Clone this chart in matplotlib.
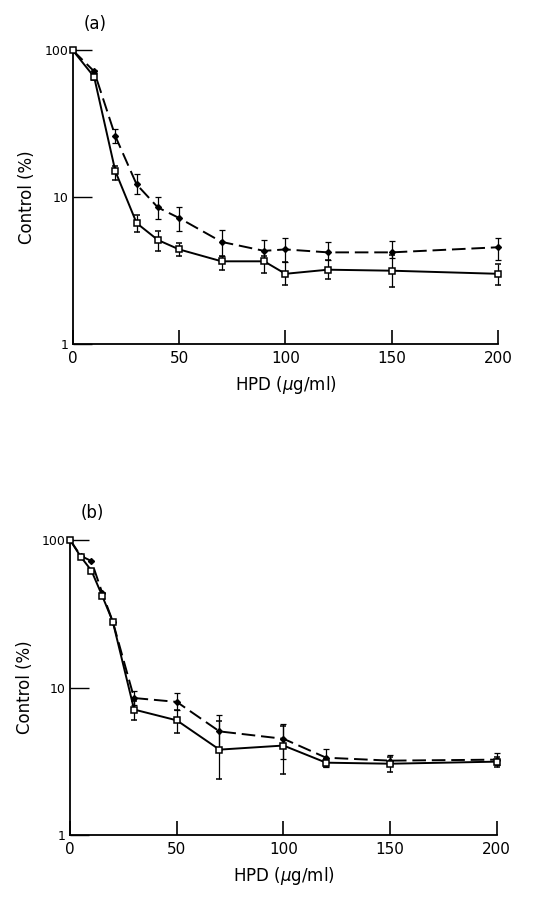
import numpy as np
import matplotlib
matplotlib.use("Agg")
import matplotlib.pyplot as plt

# panel (a)
xa = [0, 10, 20, 30, 40, 50, 70, 90, 100, 120, 150, 200]
a_filled = [100, 72, 26, 12.2, 8.5, 7.2, 4.95, 4.3, 4.4, 4.2, 4.2, 4.55]
a_filled_lo = [100, 70, 23.3, 10.5, 7.1, 5.9, 3.95, 3.6, 3.6, 3.7, 3.85, 3.7]
a_filled_hi = [100, 74, 29.3, 14.3, 10.0, 8.6, 6.0, 5.1, 5.3, 4.95, 5.0, 5.25]
a_open = [100, 66, 15.0, 6.65, 5.1, 4.4, 3.65, 3.65, 3.0, 3.2, 3.15, 3.0]
a_open_lo = [100, 63, 13.0, 5.8, 4.3, 3.95, 3.2, 3.05, 2.5, 2.75, 2.45, 2.5]
a_open_hi = [100, 69, 16.3, 7.5, 5.9, 4.9, 3.95, 3.95, 3.6, 3.7, 4.0, 3.5]

# panel (b)
xb = [0, 5, 10, 15, 20, 30, 50, 70, 100, 120, 150, 200]
b_filled = [100, 78, 72, 44, 28, 8.5, 8.0, 5.05, 4.5, 3.35, 3.2, 3.25]
b_filled_lo = [100, 78, 72, 44, 28, 7.6, 7.1, 3.8, 3.3, 2.9, 3.0, 3.0]
b_filled_hi = [100, 78, 72, 44, 28, 9.5, 9.15, 6.5, 5.7, 3.85, 3.5, 3.6]
b_open = [100, 77, 62, 42, 28, 7.1, 6.0, 3.8, 4.05, 3.1, 3.05, 3.15]
b_open_lo = [100, 77, 62, 42, 28, 6.0, 4.9, 2.4, 2.6, 2.9, 2.7, 2.9]
b_open_hi = [100, 77, 62, 42, 28, 8.1, 7.1, 5.9, 5.5, 3.3, 3.4, 3.4]

xticks = [0, 50, 100, 150, 200]
yticks = [1, 10, 100]


def draw_panel(ax, x, fy, flo, fhi, oy, olo, ohi, letter):
    fy, flo, fhi = np.array(fy), np.array(flo), np.array(fhi)
    oy, olo, ohi = np.array(oy), np.array(olo), np.array(ohi)
    ax.errorbar(x, fy, yerr=[fy - flo, fhi - fy], fmt='-', color='black',
                lw=1.4, dashes=(7, 3), marker='D', ms=3, mfc='black',
                ecolor='black', elinewidth=0.9, capsize=2.5, capthick=0.9,
                clip_on=False, zorder=3)
    ax.errorbar(x, oy, yerr=[oy - olo, ohi - oy], fmt='-', color='black',
                lw=1.4, marker='s', ms=5, mfc='white', mew=1.1,
                ecolor='black', elinewidth=0.9, capsize=2.5, capthick=0.9,
                clip_on=False, zorder=4)
    ax.set_yscale('log')
    ax.set_ylim(1, 100)
    ax.set_xlim(0, 200)
    ax.set_xticks(xticks)
    ax.set_xticklabels([str(t) for t in xticks])
    ax.set_yticks(yticks)
    ax.set_yticklabels([str(t) for t in yticks])
    ax.yaxis.set_minor_locator(matplotlib.ticker.NullLocator())
    ax.spines['top'].set_visible(False)
    ax.spines['right'].set_visible(False)
    ax.spines['left'].set_linewidth(1.3)
    ax.spines['bottom'].set_linewidth(1.3)
    ax.tick_params(axis='x', direction='in', length=10, width=1.2,
                   labelsize=11, pad=5)
    ax.tick_params(axis='y', direction='in', length=14, width=1.0,
                   labelsize=9, pad=3)
    ax.set_xlabel('HPD ($\\mu$g/ml)', fontsize=12, labelpad=6)
    ax.set_ylabel('Control (%)', fontsize=12, labelpad=6)
    ax.text(0.025, 1.06, letter, transform=ax.transAxes, fontsize=12,
            ha='left', va='bottom')


fig = plt.figure(figsize=(5.52, 9.0), dpi=100)
ax1 = fig.add_axes([0.132, 0.618, 0.770, 0.326])
ax2 = fig.add_axes([0.127, 0.072, 0.773, 0.328])

draw_panel(ax1, xa, a_filled, a_filled_lo, a_filled_hi,
           a_open, a_open_lo, a_open_hi, '(a)')
draw_panel(ax2, xb, b_filled, b_filled_lo, b_filled_hi,
           b_open, b_open_lo, b_open_hi, '(b)')

fig.savefig('out.png', dpi=100)
